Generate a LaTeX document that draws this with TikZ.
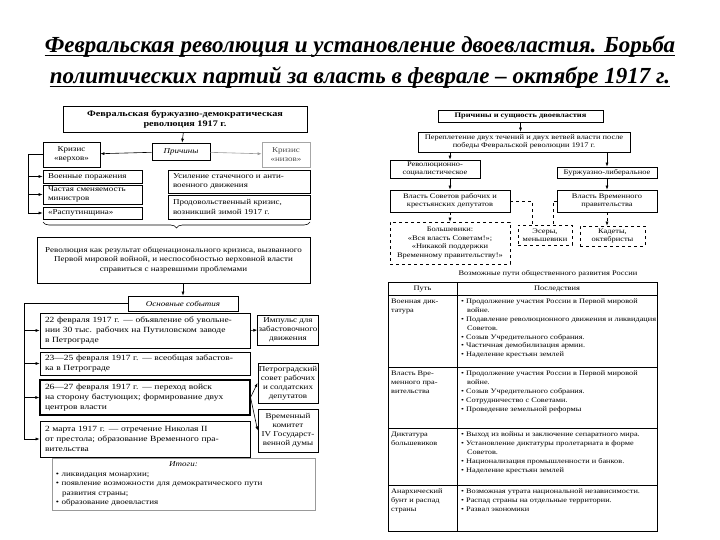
\documentclass[tikz,border=0pt]{standalone}
\usepackage{fontspec}
\setmainfont{Liberation Serif}
\newfontfamily\scanfont[FakeStretch=1.2]{Liberation Serif}
\usetikzlibrary{arrows.meta,positioning,decorations.pathreplacing}
\newcommand{\bitem}{\textbullet\ }
\newcommand{\bcont}{\hspace*{6pt}}

\begin{document}
\begin{tikzpicture}[x=1pt, y=-1pt,
    every node/.style={font=\scanfont\fontsize{7.5}{9.5}\selectfont, inner sep=2pt},
    ttl/.style={font=\fontsize{23}{31}\selectfont\bfseries\itshape, inner sep=0pt},
    box/.style={draw, line width=0.7pt, align=center},
    lbox/.style={draw, line width=0.7pt, align=left, inner xsep=5pt, inner ysep=1pt},
    ebox/.style={lbox, text width=200, font=\scanfont\fontsize{7.9}{9.8}\selectfont},
    sbox/.style={draw, line width=0.6pt, align=center, inner sep=1pt, font=\scanfont\fontsize{7}{8.5}\selectfont},
    dbox/.style={sbox, dashed},
    arr/.style={-{Latex[length=4pt,width=3pt]}, line width=0.6pt},
    darr/.style={arr, dashed},
    cell/.style={anchor=north west, align=left, inner sep=0pt, font=\scanfont\fontsize{6.9}{8.8}\selectfont}]
  \useasboundingbox (0,0) rectangle (720,540);

  % title
  \node[ttl] (t1) at (360,47) {Февральская революция и установление двоевластия. Борьба};
  \node[ttl] (t2) at (360,78) {политических партий за власть в феврале – октябре 1917 г.};
  \draw[line width=1.3pt] ([yshift=-3pt]t1.base west) -- ([yshift=-3pt]t1.base east);
  \draw[line width=1.3pt] ([yshift=-3pt]t2.base west) -- ([yshift=-3pt]t2.base east);

  % causes of the revolution
  \node[box, font=\scanfont\fontsize{8.5}{10}\selectfont\bfseries, minimum width=244, minimum height=26] (rev) at (185,119) {Февральская буржуазно-демократическая\\революция 1917 г.};
  \node[box, font=\scanfont\fontsize{7.5}{9}\selectfont\itshape, minimum width=58, minimum height=17] (prich) at (181,151.5) {Причины};
  \node[box, minimum width=57, minimum height=25] (krv) at (71.5,154.5) {Кризис\\«верхов»};
  \node[box, draw=black!35, text=black!70, minimum width=48, minimum height=25] (krn) at (286,154.5) {Кризис\\«низов»};
  \node[lbox, text width=89, minimum height=13] (vp) at (92.5,176.5) {Военные поражения};
  \node[lbox, text width=89, minimum height=19] (chs) at (92.5,194.5) {Частая сменяемость\\министров};
  \node[lbox, text width=89, minimum height=12] (rasp) at (92.5,213) {«Распутинщина»};
  \node[lbox, text width=132, minimum height=23] (us) at (239,181.5) {Усиление стачечного и анти-\\военного движения};
  \node[lbox, text width=132, minimum height=24] (prod) at (239,207) {Продовольственный кризис,\\возникший зимой 1917 г.};

  \draw[arr] (rev) -- (prich);
  \draw[arr] (prich) -- (krv);
  \draw[arr, draw=black!40] (prich) -- (krn);
  \coordinate (lb1) at (28,154.5);
  \draw[line width=0.6pt] (krv.west) -- (lb1);
  \draw[arr] (lb1) |- (vp.west);
  \draw[arr] (lb1) |- (chs.west);
  \draw[arr] (lb1) |- (rasp.west);
  \draw[line width=0.6pt, decorate, decoration={brace, amplitude=6pt, mirror}] (43,222) -- (310,222);

  \node[box, minimum width=273, minimum height=46] (res) at (173.5,260) {Революция как результат общенационального кризиса, вызванного\\Первой мировой войной, и неспособностью верховной власти\\справиться с назревшими проблемами};
  \node[box, font=\scanfont\fontsize{7.5}{9}\selectfont\itshape, minimum width=110, minimum height=15] (osn) at (183,303.5) {Основные события};
  \draw[arr] (res.south -| osn.north) -- (osn.north);

  % main events
  \node[ebox, minimum height=35] (e1) at (145,330.5) {22 февраля 1917 г. — объявление об увольне-\\нии 30 тыс. рабочих на Путиловском заводе\\в Петрограде};
  \node[ebox, minimum height=23] (e2) at (145,363.5) {23—25 февраля 1917 г. — всеобщая забастов-\\ка в Петрограде};
  \node[ebox, line width=1.1pt, minimum height=35] (e3) at (145,397.5) {26—27 февраля 1917 г. — переход войск\\на сторону бастующих; формирование двух\\центров власти};
  \node[ebox, minimum height=36] (e4) at (145,439) {2 марта 1917 г. — отречение Николая II\\от престола; образование Временного пра-\\вительства};
  \node[box, inner xsep=1pt, font=\scanfont\fontsize{7.5}{9}\selectfont, minimum width=60, minimum height=30] (imp) at (288,330) {Импульс для\\забастовочного\\движения};
  \node[box, inner xsep=1pt, font=\scanfont\fontsize{7.5}{9}\selectfont, minimum width=60, minimum height=40] (pet) at (288,383) {Петроградский\\совет рабочих\\и солдатских\\депутатов};
  \node[box, inner xsep=1pt, font=\scanfont\fontsize{7.5}{9}\selectfont, minimum width=60, minimum height=43] (vrk) at (288,430.5) {Временный\\комитет\\IV Государст-\\венной думы};

  \coordinate (lb2) at (24,303.5);
  \draw[line width=0.6pt] (osn.west) -- (lb2);
  \draw[arr] (lb2) |- (e1.west);
  \draw[arr] (lb2) |- (e2.west);
  \draw[arr] (lb2) |- (e3.west);
  \draw[arr] (lb2) |- (e4.west);
  \draw[arr] (e1.east) -- (imp.west);
  \draw[arr] (e3.east) -- (pet.west);
  \draw[arr] (e3.east) -- (vrk.west);

  \node[draw=black!40, line width=0.5pt, align=left, text width=255, minimum height=52, inner xsep=4pt] (itogi) at (183.5,484)
    {\makebox[255pt][c]{\itshape Итоги:}\\
     \bitem ликвидация монархии;\\
     \bitem появление возможности для демократического пути\\
     \bcont развития страны;\\
     \bitem образование двоевластия};

  % dual power
  \node[sbox, font=\scanfont\fontsize{7}{8.5}\selectfont\bfseries, minimum width=165, minimum height=12] (pss) at (520.5,116) {Причины и сущность двоевластия};
  \node[sbox, minimum width=212, minimum height=20] (per) at (524,142) {Переплетение двух течений и двух ветвей власти после\\победы Февральской революции 1917 г.};
  \node[sbox, minimum width=90, minimum height=18] (rs) at (435,169) {Революционно-\\социалистическое};
  \node[sbox, minimum width=100, minimum height=11] (bl) at (607,172.5) {Буржуазно-либеральное};
  \node[sbox, minimum width=120, minimum height=22] (vs) at (450,201) {Власть Советов рабочих и\\крестьянских депутатов};
  \node[sbox, minimum width=100, minimum height=22] (vvp) at (607,201) {Власть Временного\\правительства};
  \node[dbox, minimum width=120, minimum height=42] (bol) at (450,243) {Большевики:\\«Вся власть Советам!»;\\«Никакой поддержки\\Временному правительству!»};
  \node[dbox, minimum width=54, minimum height=20] (es) at (545,235) {Эсеры,\\меньшевики};
  \node[dbox, minimum width=65, minimum height=20] (kad) at (612.5,236) {Кадеты,\\октябристы};

  \draw[arr] (pss) -- (pss |- per.north);
  \draw[arr] (per.south -| vs.north) -- (rs.north -| vs.north);
  \draw[arr] (per.south -| bl.north) -- (bl.north);
  \draw[arr] (rs.south -| vs.north) -- (vs.north);
  \draw[arr] (bl) -- (vvp);
  \draw[darr] (vs) -- (bol);
  \draw[darr] (vvp) -- (vvp |- kad.north);
  \draw[dashed, line width=0.6pt] (vs.east) -| (532,225);
  \draw[dashed, line width=0.6pt] (vvp.west) -| (553,225);

  % table of possible ways
  \node[font=\scanfont\fontsize{7}{8}\selectfont] (cap) at (548,274) {Возможные пути общественного развития России};
  \draw[line width=0.9pt] (388,282) rectangle (657,531);
  \draw[line width=0.5pt] (457,282) -- (457,531);
  \draw[line width=0.5pt] (388,295) -- (657,295);
  \draw[line width=0.6pt] (388,367) -- (657,367);
  \draw[line width=0.6pt] (388,428) -- (657,428);
  \draw[line width=0.9pt] (388,485) -- (657,485);
  \node[font=\scanfont\fontsize{7}{8}\selectfont] (hp) at (422.5,288.5) {Путь};
  \node[font=\scanfont\fontsize{7}{8}\selectfont] (hc) at (557,288.5) {Последствия};

  \node[cell] (p1) at (391,299) {Военная дик-\\татура};
  \node[cell] (c1) at (461,299) {\bitem Продолжение участия России в Первой мировой\\\bcont войне.\\
    \bitem Подавление революционного движения и ликвидация\\\bcont Советов.\\
    \bitem Созыв Учредительного собрания.\\
    \bitem Частичная демобилизация армии.\\
    \bitem Наделение крестьян землей};
  \node[cell] (p2) at (391,371) {Власть Вре-\\менного пра-\\вительства};
  \node[cell] (c2) at (461,371) {\bitem Продолжение участия России в Первой мировой\\\bcont войне.\\
    \bitem Созыв Учредительного собрания.\\
    \bitem Сотрудничество с Советами.\\
    \bitem Проведение земельной реформы};
  \node[cell] (p3) at (391,432) {Диктатура\\большевиков};
  \node[cell] (c3) at (461,432) {\bitem Выход из войны и заключение сепаратного мира.\\
    \bitem Установление диктатуры пролетариата в форме\\\bcont Советов.\\
    \bitem Национализация промышленности и банков.\\
    \bitem Наделение крестьян землей};
  \node[cell] (p4) at (391,489) {Анархический\\бунт и распад\\страны};
  \node[cell] (c4) at (461,489) {\bitem Возможная утрата национальной независимости.\\
    \bitem Распад страны на отдельные территории.\\
    \bitem Развал экономики};
\end{tikzpicture}
\end{document}
